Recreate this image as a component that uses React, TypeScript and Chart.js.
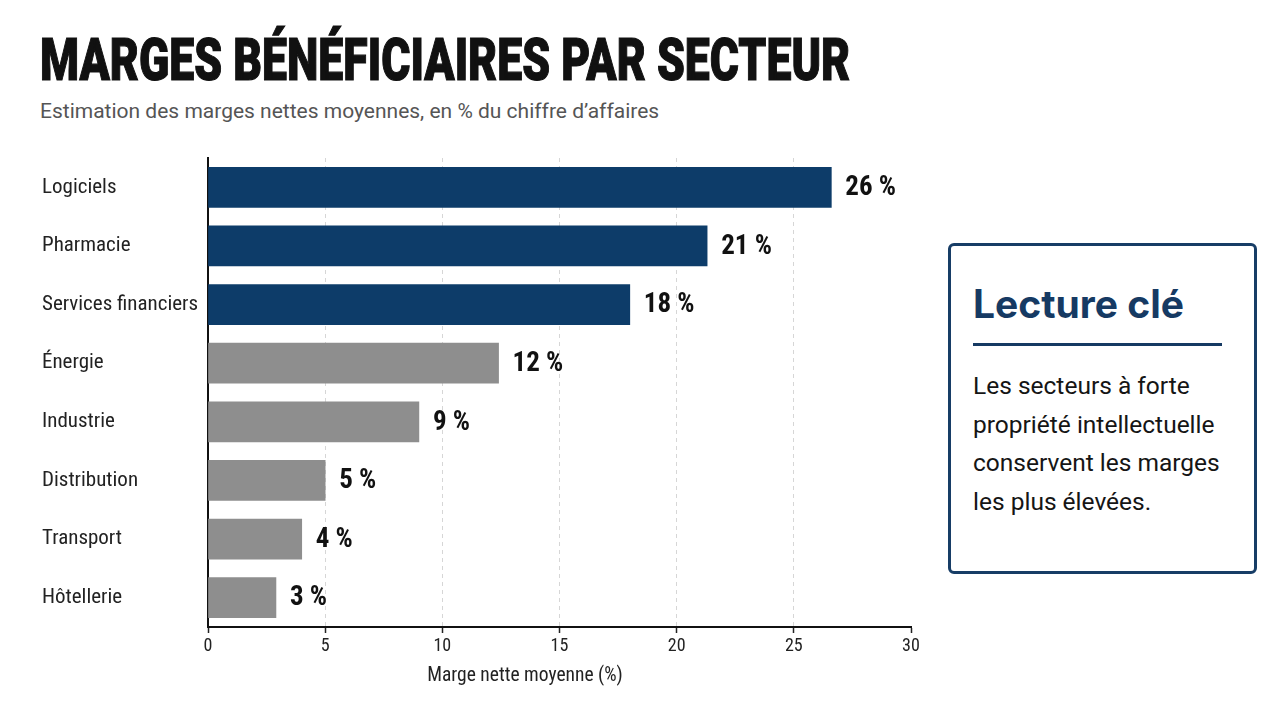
import React, { useEffect, useLayoutEffect, useRef } from 'react';
import { Chart, registerables } from 'chart.js';

Chart.register(...registerables);

const categories = ['Logiciels', 'Pharmacie', 'Services financiers', 'Énergie', 'Industrie', 'Distribution', 'Transport', 'Hôtellerie'];
const margins = [26.6, 21.3, 18.0, 12.4, 9.0, 5.0, 4.0, 2.9];
const marginLabels = ['26 %', '21 %', '18 %', '12 %', '9 %', '5 %', '4 %', '3 %'];
const highlighted = [true, true, true, false, false, false, false, false];
const xTickValues = [0, 5, 10, 15, 20, 25, 30];

const NAVY = '#0d3c69';
const GREY = '#8e8e8e';
const COND = '"Roboto Condensed", Roboto, sans-serif';

const valueLabelPlugin = {
  id: 'valueLabels',
  afterDatasetsDraw(chart: any) {
    const meta = chart.getDatasetMeta(0);
    const ctx = chart.ctx;
    ctx.save();
    ctx.font = `700 27px ${COND}`;
    ctx.fillStyle = '#111111';
    ctx.textBaseline = 'middle';
    ctx.textAlign = 'left';
    meta.data.forEach((bar: any, i: number) => {
      ctx.fillText(marginLabels[i], bar.x + 14, bar.y + 1);
    });
    ctx.restore();
  },
};

function BarChart() {
  const canvasRef = useRef<HTMLCanvasElement | null>(null);
  useEffect(() => {
    if (!canvasRef.current) return;
    const chart = new Chart(canvasRef.current, {
      type: 'bar',
      data: {
        labels: categories,
        datasets: [
          {
            data: margins,
            backgroundColor: highlighted.map((h) => (h ? NAVY : GREY)),
            barThickness: 40,
            borderWidth: 0,
          },
        ],
      },
      options: {
        indexAxis: 'y',
        animation: false,
        responsive: false,
        maintainAspectRatio: false,
        layout: { padding: { left: 42, top: 18, right: 19, bottom: 0 } },
        plugins: {
          legend: { display: false },
          tooltip: { enabled: false },
          title: { display: false },
        },
        scales: {
          x: {
            type: 'linear',
            min: 0,
            max: 30,
            afterBuildTicks: (scale: any) => {
              scale.ticks = xTickValues.map((v) => ({ value: v }));
            },
            afterFit: (scale: any) => {
              scale.height = 73;
            },
            ticks: {
              color: '#222222',
              font: { family: COND, size: 18 },
              padding: 3,
            },
            grid: {
              color: (c: any) => (c.tick && (c.tick.value === 30 || c.tick.value === 0) ? 'rgba(0,0,0,0)' : '#d6d6d6'),
              lineWidth: 1,
              tickLength: 6,
              tickColor: '#222222',
              tickWidth: 1.5,
            },
            border: { display: true, color: '#111111', width: 2, dash: [4, 4] },
          },
          y: {
            afterFit: (scale: any) => {
              scale.width = 166;
            },
            ticks: {
              crossAlign: 'far',
              color: '#222222',
              font: { family: COND, size: 21 },
            },
            grid: { display: false },
            border: { display: true, color: '#111111', width: 2 },
          },
        },
      },
      plugins: [valueLabelPlugin],
    } as any);
    return () => chart.destroy();
  }, []);
  return (
    <div style={{ position: 'absolute', left: 0, top: 140, width: 930, height: 560 }}>
      <canvas ref={canvasRef} width={930} height={560} style={{ width: 930, height: 560, display: 'block' }} />
    </div>
  );
}

function Title() {
  const ref = useRef<HTMLDivElement | null>(null);
  useLayoutEffect(() => {
    const fit = () => {
      const el = ref.current;
      if (!el) return;
      const w = el.offsetWidth;
      if (w > 0) el.style.transform = `scaleX(${810 / w})`;
    };
    fit();
    if ((document as any).fonts) (document as any).fonts.ready.then(fit);
  }, []);
  return (
    <div
      ref={ref}
      style={{
        position: 'absolute',
        left: 40,
        top: 30,
        fontFamily: 'Roboto',
        fontWeight: 900,
        fontSize: 60,
        lineHeight: 1,
        color: '#111111',
        whiteSpace: 'nowrap',
        transformOrigin: 'left top',
        display: 'inline-block',
        WebkitTextStroke: '1.2px #111111',
      }}
    >
      MARGES BÉNÉFICIAIRES PAR SECTEUR
    </div>
  );
}

export default function App() {
  return (
    <div
      style={{
        position: 'absolute',
        left: 0,
        top: 0,
        width: 1280,
        height: 702,
        background: '#ffffff',
        overflow: 'hidden',
        fontFamily: 'Roboto',
      }}
    >
      <Title />
      <div
        style={{
          position: 'absolute',
          left: 40,
          top: 97,
          fontSize: 21,
          lineHeight: '28px',
          color: '#555555',
          whiteSpace: 'nowrap',
        }}
      >
        Estimation des marges nettes moyennes, en % du chiffre d’affaires
      </div>
      <BarChart />
      <div
        style={{
          position: 'absolute',
          left: 325,
          width: 400,
          top: 663,
          textAlign: 'center',
          fontFamily: COND,
          fontSize: 19.5,
          lineHeight: '24px',
          color: '#222222',
        }}
      >
        Marge nette moyenne (%)
      </div>
      <div
        style={{
          position: 'absolute',
          left: 948,
          top: 243,
          width: 309,
          height: 331,
          boxSizing: 'border-box',
          border: '3px solid #173d66',
          borderRadius: 6,
        }}
      >
        <div
          style={{
            position: 'absolute',
            left: 22,
            top: 36,
            fontFamily: 'Inter',
            fontWeight: 700,
            fontSize: 39,
            lineHeight: '44px',
            color: '#163a63',
            whiteSpace: 'nowrap',
          }}
        >
          Lecture clé
        </div>
        <div style={{ position: 'absolute', left: 22, top: 97, width: 249, height: 3, background: '#163a63' }} />
        <div
          style={{
            position: 'absolute',
            left: 22,
            top: 121,
            fontSize: 24.5,
            lineHeight: '38.5px',
            color: '#151515',
            whiteSpace: 'nowrap',
          }}
        >
          Les secteurs à forte
          <br />
          propriété intellectuelle
          <br />
          conservent les marges
          <br />
          les plus élevées.
        </div>
      </div>
    </div>
  );
}
